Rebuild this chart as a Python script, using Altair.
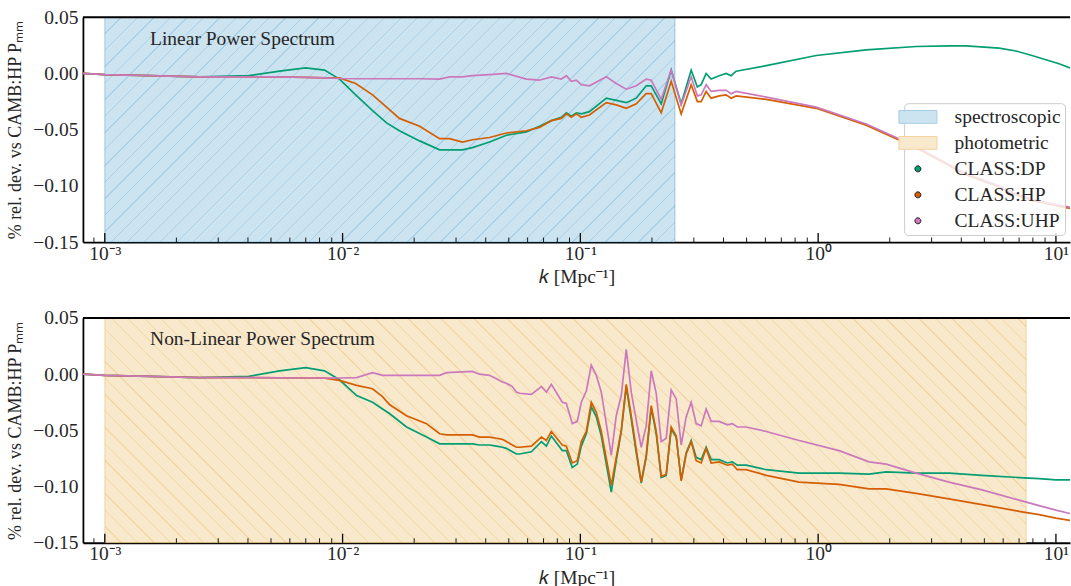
import math
import altair as alt
import pandas as pd

# ---------------- data ----------------
SERIES = ["CLASS:DP", "CLASS:HP", "CLASS:UHP"]
COLORS = ["#029e73", "#d55e00", "#cc78bc"]

# Linear power spectrum panel: log10(k / Mpc^-1) grid and % deviations
LIN_LOG10_K = [-3.092, -3.000, -2.811, -2.601, -2.395, -2.265, -2.155, -2.076, -2.013, -1.945,
               -1.874, -1.815, -1.761, -1.676, -1.592, -1.550, -1.496, -1.454, -1.382, -1.311,
               -1.227, -1.172, -1.122, -1.080, -1.059, -1.038, -1.017, -0.996, -0.962, -0.891,
               -0.849, -0.807, -0.765, -0.723, -0.702, -0.660, -0.618, -0.576, -0.534, -0.508,
               -0.492, -0.471, -0.450, -0.416, -0.387, -0.366, -0.345, -0.218, -0.008, 0.202,
               0.412, 0.550, 0.622, 0.761, 0.832, 0.899, 1.013, 1.059]
LIN_DP = [0.000, -0.001, -0.002, -0.003, -0.002, 0.002, 0.005, 0.003, -0.005, -0.019,
          -0.033, -0.044, -0.051, -0.060, -0.068, -0.068, -0.068, -0.066, -0.061, -0.055,
          -0.052, -0.047, -0.042, -0.039, -0.035, -0.038, -0.035, -0.036, -0.034, -0.022,
          -0.024, -0.026, -0.022, -0.011, -0.011, -0.027, 0.003, -0.027, 0.003, -0.012,
          -0.010, 0.000, -0.005, -0.002, 0.000, -0.002, 0.002, 0.007, 0.016, 0.021,
          0.024, 0.0246, 0.0245, 0.0225, 0.020, 0.016, 0.0086, 0.005]
LIN_HP = [0.000, -0.001, -0.002, -0.003, -0.003, -0.003, -0.0035, -0.004, -0.004, -0.009,
          -0.019, -0.030, -0.040, -0.047, -0.058, -0.058, -0.061, -0.059, -0.057, -0.053,
          -0.051, -0.048, -0.042, -0.040, -0.036, -0.039, -0.036, -0.039, -0.037, -0.026,
          -0.028, -0.031, -0.027, -0.018, -0.018, -0.035, -0.007, -0.036, -0.010, -0.025,
          -0.025, -0.016, -0.022, -0.020, -0.019, -0.022, -0.020, -0.023, -0.031, -0.046,
          -0.066, -0.082, -0.090, -0.101, -0.108, -0.113, -0.118, -0.120]
LIN_UHP = [0.000, -0.001, -0.002, -0.003, -0.003, -0.003, -0.0035, -0.004, -0.0045, -0.0047,
           -0.0047, -0.0047, -0.0047, -0.0047, -0.005, -0.003, -0.003, -0.002, -0.001, 0.000,
           -0.005, -0.006, -0.003, -0.005, -0.002, -0.007, -0.006, -0.010, -0.011, -0.003,
           -0.009, -0.014, -0.011, -0.005, -0.006, -0.023, 0.003, -0.028, -0.003, -0.020,
           -0.019, -0.010, -0.016, -0.015, -0.015, -0.018, -0.016, -0.021, -0.030, -0.045,
           -0.065, -0.081, -0.089, -0.100, -0.107, -0.112, -0.117, -0.119]

# Non-linear power spectrum panel
NL_LOG10_K = [-3.092, -3.000, -2.811, -2.601, -2.395, -2.265, -2.155, -2.076, -2.013, -1.941,
              -1.874, -1.832, -1.803, -1.731, -1.647, -1.592, -1.563, -1.454, -1.424, -1.382,
              -1.353, -1.328, -1.311, -1.286, -1.269, -1.256, -1.206, -1.164, -1.143, -1.122,
              -1.076, -1.059, -1.034, -1.013, -0.996, -0.975, -0.954, -0.933, -0.912, -0.891,
              -0.870, -0.849, -0.828, -0.807, -0.786, -0.765, -0.744, -0.723, -0.702, -0.681,
              -0.660, -0.639, -0.618, -0.597, -0.576, -0.555, -0.534, -0.513, -0.492, -0.471,
              -0.450, -0.416, -0.382, -0.361, -0.340, -0.303, -0.218, -0.080, 0.088, 0.214,
              0.286, 0.412, 0.550, 0.689, 0.845, 0.929, 1.000, 1.059]
NL_DP = [0.000, -0.001, -0.002, -0.003, -0.002, 0.003, 0.0058, 0.003, -0.005, -0.019,
         -0.025, -0.031, -0.035, -0.047, -0.056, -0.062, -0.062, -0.062, -0.063, -0.063,
         -0.064, -0.065, -0.066, -0.069, -0.071, -0.071, -0.069, -0.060, -0.064, -0.055,
         -0.068, -0.068, -0.083, -0.080, -0.064, -0.053, -0.029, -0.038, -0.055, -0.080,
         -0.105, -0.077, -0.051, -0.011, -0.040, -0.070, -0.097, -0.074, -0.030, -0.053,
         -0.092, -0.090, -0.049, -0.056, -0.094, -0.070, -0.059, -0.074, -0.076, -0.065,
         -0.076, -0.076, -0.079, -0.078, -0.081, -0.081, -0.085, -0.088, -0.088, -0.089,
         -0.087, -0.088, -0.088, -0.090, -0.092, -0.093, -0.094, -0.094]
NL_HP = [0.000, -0.001, -0.002, -0.003, -0.003, -0.0033, -0.0034, -0.0035, -0.0055, -0.010,
         -0.013, -0.020, -0.027, -0.037, -0.044, -0.053, -0.054, -0.054, -0.056, -0.056,
         -0.057, -0.058, -0.060, -0.063, -0.065, -0.065, -0.064, -0.056, -0.059, -0.051,
         -0.063, -0.064, -0.079, -0.077, -0.060, -0.051, -0.025, -0.034, -0.051, -0.075,
         -0.099, -0.074, -0.050, -0.009, -0.037, -0.067, -0.096, -0.072, -0.028, -0.051,
         -0.091, -0.089, -0.047, -0.055, -0.095, -0.071, -0.060, -0.077, -0.079, -0.066,
         -0.079, -0.078, -0.081, -0.080, -0.085, -0.085, -0.090, -0.096, -0.098, -0.102,
         -0.102, -0.106, -0.111, -0.116, -0.122, -0.125, -0.128, -0.130]
NL_UHP = [0.000, -0.001, -0.002, -0.003, -0.003, -0.0033, -0.0034, -0.0035, -0.0034, -0.003,
          0.0013, -0.001, -0.001, -0.001, -0.001, -0.001, 0.0013, 0.0025, 0.000, -0.001,
          -0.004, -0.007, -0.008, -0.011, -0.016, -0.017, -0.018, -0.011, -0.016, -0.009,
          -0.025, -0.026, -0.044, -0.042, -0.025, -0.015, 0.008, -0.001, -0.016, -0.044,
          -0.072, -0.037, -0.019, 0.022, -0.016, -0.041, -0.065, -0.046, 0.003, -0.017,
          -0.060, -0.057, -0.014, -0.022, -0.063, -0.038, -0.025, -0.044, -0.046, -0.031,
          -0.042, -0.042, -0.045, -0.044, -0.047, -0.047, -0.051, -0.059, -0.068, -0.078,
          -0.080, -0.088, -0.096, -0.103, -0.112, -0.117, -0.121, -0.124]

SPEC_RANGE = [1e-3, 0.25]
PHOT_RANGE = [1e-3, 7.5]
X_DOMAIN = [8.09e-4, 11.46]
Y_DOMAIN = [-0.15, 0.05]
Y_TICKS = [-0.15, -0.10, -0.05, 0.00, 0.05]
MAJOR_TICKS = [1e-3, 1e-2, 1e-1, 1.0, 10.0]
MINOR_TICKS = [m * 10.0 ** e for e in range(-4, 1) for m in range(2, 10)
               if X_DOMAIN[0] < m * 10.0 ** e < X_DOMAIN[1]]

LEGEND_LABELS = ["spectroscopic", "photometric", "CLASS:DP", "CLASS:HP", "CLASS:UHP"]
LEGEND_FILLS = ["#cce3f0", "#f8e9cd", COLORS[0], COLORS[1], COLORS[2]]
LEGEND_STROKES = ["#a6cde5", "#f1d29f", "#222222", "#222222", "#222222"]
PATCH = "M-2.375,-0.8H2.375V0.8H-2.375Z"
DOT = "M0.375,0A0.375,0.375,0,1,1,-0.375,0A0.375,0.375,0,1,1,0.375,0Z"
LEGEND_SHAPES = [PATCH, PATCH, DOT, DOT, DOT]

# ---------------- style ----------------
W, H = 988, 225
SERIF = "Liberation Serif"
TXT = "#262626"
FS = 19.5

xscale = alt.Scale(type="log", domain=X_DOMAIN, nice=False)
yscale = alt.Scale(domain=Y_DOMAIN, nice=False, zero=False)

e = "round(log(datum.value)/LN10)"
label_expr = (f"{e} == -3 ? '10⁻³' : {e} == -2 ? '10⁻²' : {e} == -1 ? '10⁻¹' : "
              f"{e} == 0 ? '10⁰' : '10¹'")

xaxis = alt.Axis(values=MAJOR_TICKS, labelExpr=label_expr, title="𝑘 [Mpc⁻¹]",
                 ticks=False, tickSize=0, grid=False, domainColor="black", domainWidth=1.8,
                 labelFont=SERIF, labelFontSize=FS, labelColor=TXT, labelPadding=2,
                 labelFlush=False, labelOverlap=False,
                 titleFont=SERIF, titleFontSize=FS, titleFontWeight="normal",
                 titleColor=TXT, titlePadding=5)
yaxis = alt.Axis(values=Y_TICKS, format=".2f", title="% rel. dev. vs CAMB:HP Pₘₘ",
                 ticks=False, tickSize=0, grid=False, domainColor="black", domainWidth=1.8,
                 labelFont=SERIF, labelFontSize=FS, labelColor=TXT, labelPadding=5,
                 labelFlush=False, labelOverlap=False,
                 titleFont=SERIF, titleFontSize=18, titleFontWeight="normal",
                 titleColor=TXT, titlePadding=8)


def long_df(logk, dp, hp, uhp):
    rows = []
    for name, vals in zip(SERIES, (dp, hp, uhp)):
        for lk, v in zip(logk, vals):
            rows.append({"k": 10 ** lk, "value": v, "series": name})
    return pd.DataFrame(rows)


def hatch_gradient(k1, k2, rgb, alpha, period, direction):
    lx0, lx1 = math.log10(X_DOMAIN[0]), math.log10(X_DOMAIN[1])
    w = W * (math.log10(k2) - math.log10(k1)) / (lx1 - lx0)
    h = H
    span = w + h
    clear = f"rgba({rgb},0)"
    line = f"rgba({rgb},{alpha})"
    lw = 1.3 / span
    stops = [{"offset": 0, "color": clear}]
    n = int(span / period) + 1
    for i in range(1, n + 1):
        c = i * period / span
        if c + lw >= 1:
            break
        stops += [{"offset": c - lw / 2, "color": clear}, {"offset": c - lw / 2, "color": line},
                  {"offset": c + lw / 2, "color": line}, {"offset": c + lw / 2, "color": clear}]
    stops.append({"offset": 1, "color": clear})
    r = h / w
    s = span / (w * (1 + r * r))
    if direction == "/":
        x1, y1, x2, y2 = 0, 0, s, s * r
    else:
        x1, y1, x2, y2 = 0, 1, s, 1 - s * r
    return {"gradient": "linear", "x1": x1, "y1": y1, "x2": x2, "y2": y2, "stops": stops}


def panel(df, region, fill, edge, rgb, alpha, direction, label, with_legend):
    reg_df = pd.DataFrame({"k1": [region[0]], "k2": [region[1]]})
    shade = alt.Chart(reg_df).mark_rect(fill=fill, stroke=edge, strokeWidth=1).encode(
        x=alt.X("k1:Q", scale=xscale, axis=xaxis), x2="k2:Q",
        y=alt.value(0), y2=alt.value("height"))
    hatch = alt.Chart(reg_df).mark_rect(
        fill=hatch_gradient(region[0], region[1], rgb, alpha, 16.5, direction)).encode(
        x=alt.X("k1:Q", scale=xscale, axis=xaxis), x2="k2:Q",
        y=alt.value(0), y2=alt.value("height"))
    lines = alt.Chart(df).mark_line(strokeWidth=1.7, clip=True).encode(
        x=alt.X("k:Q", scale=xscale, axis=xaxis),
        y=alt.Y("value:Q", scale=yscale, axis=yaxis),
        color=alt.Color("series:N", scale=alt.Scale(domain=SERIES, range=COLORS), legend=None))
    ann = alt.Chart(pd.DataFrame({"k": [1.55e-3], "value": [0.031], "text": [label]})).mark_text(
        align="left", baseline="middle", font=SERIF, fontSize=FS, color=TXT).encode(
        x=alt.X("k:Q", scale=xscale, axis=xaxis),
        y=alt.Y("value:Q", scale=yscale, axis=yaxis), text="text:N")
    minor = alt.Chart(pd.DataFrame({"k": MINOR_TICKS})).mark_rule(color="black", strokeWidth=0.9).encode(
        x=alt.X("k:Q", scale=xscale, axis=xaxis), y=alt.value("height"), y2=alt.value(H - 4.5))
    major = alt.Chart(pd.DataFrame({"k": MAJOR_TICKS})).mark_rule(color="black", strokeWidth=1.3).encode(
        x=alt.X("k:Q", scale=xscale, axis=xaxis), y=alt.value("height"), y2=alt.value(H - 9))
    top = alt.Chart(pd.DataFrame({"z": [0]})).mark_rule(color="black", strokeWidth=1.8).encode(
        x=alt.value(0), x2=alt.value("width"), y=alt.value(0))
    layers = [shade, hatch, lines, ann, minor, major, top]
    if with_legend:
        leg = alt.Legend(title=None, orient="none", legendX=822, legendY=86, padding=4,
                         fillColor="rgba(255,255,255,0.8)", strokeColor="#cccccc",
                         cornerRadius=4, labelFont=SERIF, labelFontSize=FS, labelColor=TXT,
                         symbolSize=256, symbolStrokeWidth=1, rowPadding=5, labelOffset=27,
                         symbolOpacity=1, labelLimit=0)
        leg_df = pd.DataFrame({"entry": LEGEND_LABELS, "k": [1.0] * 5, "value": [1.0] * 5})
        carrier = alt.Chart(leg_df).mark_point(filled=True, opacity=1, clip=True).encode(
            x=alt.X("k:Q", scale=xscale, axis=xaxis),
            y=alt.Y("value:Q", scale=yscale, axis=yaxis),
            fill=alt.Fill("entry:N", scale=alt.Scale(domain=LEGEND_LABELS, range=LEGEND_FILLS), legend=leg),
            shape=alt.Shape("entry:N", scale=alt.Scale(domain=LEGEND_LABELS, range=LEGEND_SHAPES), legend=leg),
            stroke=alt.Stroke("entry:N", scale=alt.Scale(domain=LEGEND_LABELS, range=LEGEND_STROKES), legend=leg))
        layers.insert(4, carrier)
    return alt.layer(*layers).properties(width=W, height=H)


top_panel = panel(long_df(LIN_LOG10_K, LIN_DP, LIN_HP, LIN_UHP), SPEC_RANGE,
                  "#cce3f0", "rgba(1,115,178,0.3)", "1,115,178", 0.16, "/",
                  "Linear Power Spectrum", True)
bottom_panel = panel(long_df(NL_LOG10_K, NL_DP, NL_HP, NL_UHP), PHOT_RANGE,
                     "#f8e9cd", "rgba(222,143,5,0.3)", "222,143,5", 0.2, "\\",
                     "Non-Linear Power Spectrum", False)

chart = alt.vconcat(top_panel, bottom_panel, spacing=22).resolve_scale(
    x="independent", y="independent", color="independent",
    fill="independent", shape="independent", stroke="independent"
).properties(
    padding={"left": 6, "top": 7, "right": 0, "bottom": 0}, background="white"
).configure(font=SERIF).configure_axis(
    labelFont=SERIF, titleFont=SERIF,
    labelColor=TXT, titleColor=TXT, titleFontWeight="normal"
).configure_legend(labelFont=SERIF).configure_view(stroke=None)

chart.save("out.html", embed_options={"renderer": "svg", "actions": False})
